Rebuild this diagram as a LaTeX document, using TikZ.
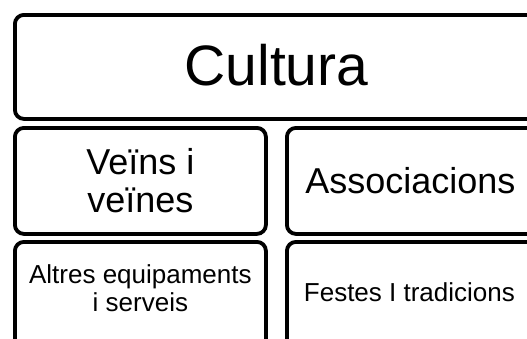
\documentclass[tikz,border=0pt]{standalone}
\usepackage{fontspec}
\setmainfont{Liberation Sans}
% move a box of text by (dx, dy) without changing its reported size
\newcommand\nudge[3]{\raisebox{#2}[\height][\depth]{\hspace*{#1}#3\hspace*{-#1}}}
\begin{document}
\begin{tikzpicture}[x=1pt,y=-1pt,
  box/.style={draw=black, line width=3.8pt, rounded corners=9pt, inner sep=0pt,
              align=center, anchor=north west, text=black},
  big/.style={font=\fontsize{57}{60}\selectfont},
  mid/.style={font=\fontsize{36}{38}\selectfont},
  small/.style={font=\fontsize{26}{28}\selectfont}]
\useasboundingbox (0,0) rectangle (527,338);
\fill[white] (0,0) rectangle (527,338);
\clip (0,0) rectangle (527,338);
\node[box, big, minimum width=527pt, minimum height=104pt] (cultura) at (13,13)
  {\nudge{-2pt}{2pt}{Cultura}};
\node[box, mid, minimum width=251pt, minimum height=106pt] (veins) at (13,126)
  {Veïns i\\veïnes};
\node[box, mid, minimum width=255pt, minimum height=106pt] (assoc) at (285,126)
  {\nudge{-4pt}{0pt}{Associacions}};
\node[box, small, minimum width=251pt, minimum height=110pt] (altres) at (13,240)
  {\nudge{0pt}{5pt}{\begin{tabular}{@{}c@{}}Altres equipaments\\i serveis\end{tabular}}};
\node[box, small, minimum width=255pt, minimum height=110pt] (festes) at (285,240)
  {\nudge{-5pt}{5pt}{Festes I tradicions}};
\end{tikzpicture}
\end{document}
